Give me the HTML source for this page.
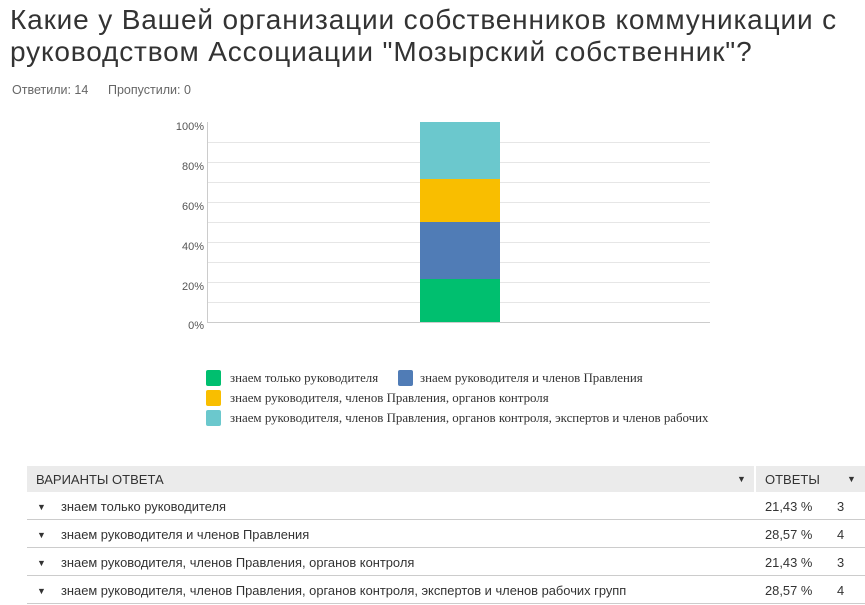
<!DOCTYPE html>
<html><head><meta charset="utf-8"><style>
body{margin:0;width:865px;height:605px;background:#fff;font-family:"Liberation Sans",sans-serif;position:relative;overflow:hidden;color:#333}
.t{position:absolute;left:10px;top:4px;font-size:28px;line-height:32px;color:#333;white-space:nowrap;letter-spacing:0.85px}
.s{position:absolute;top:83px;font-size:12.5px;color:#666}
.yl{position:absolute;left:150px;width:54px;text-align:right;font-size:11px;color:#555}
.lg{position:absolute;font-family:"Liberation Serif",serif;font-size:12.9px;color:#333;white-space:nowrap}
.sq{position:absolute;width:15px;height:16px;border-radius:2px}
.row{position:absolute;left:27px;width:838px;height:27px;border-bottom:1px solid #ccc;font-size:12.9px}
.row span{position:absolute;top:7px;white-space:nowrap}
.tri{position:absolute;font-size:9px;color:#333}
</style></head><body>
<div class="t">Какие у Вашей организации собственников коммуникации с<br>руководством Ассоциации "Мозырский собственник"?</div>
<div class="s" style="left:12px">Ответили: 14</div>
<div class="s" style="left:108px">Пропустили: 0</div>
<svg style="position:absolute;left:0;top:0" width="865" height="460">
<g stroke="#e6e6e6" stroke-width="1">
<line x1="207" x2="710" y1="142.5" y2="142.5"/><line x1="207" x2="710" y1="162.5" y2="162.5"/>
<line x1="207" x2="710" y1="182.5" y2="182.5"/><line x1="207" x2="710" y1="202.5" y2="202.5"/>
<line x1="207" x2="710" y1="222.5" y2="222.5"/><line x1="207" x2="710" y1="242.5" y2="242.5"/>
<line x1="207" x2="710" y1="262.5" y2="262.5"/><line x1="207" x2="710" y1="282.5" y2="282.5"/>
<line x1="207" x2="710" y1="302.5" y2="302.5"/>
</g>
<line x1="207.5" x2="207.5" y1="122" y2="322" stroke="#ccc"/>
<line x1="207" x2="710" y1="322.5" y2="322.5" stroke="#ccc"/>
<rect x="420" y="279" width="80" height="43" fill="#00bf6f"/>
<rect x="420" y="222" width="80" height="57" fill="#507cb6"/>
<rect x="420" y="179" width="80" height="43" fill="#f9be00"/>
<rect x="420" y="122" width="80" height="57" fill="#6bc8cd"/>
</svg>
<div class="yl" style="top:121px">100%</div>
<div class="yl" style="top:161px">80%</div>
<div class="yl" style="top:201px">60%</div>
<div class="yl" style="top:241px">40%</div>
<div class="yl" style="top:281px">20%</div>
<div class="yl" style="top:320px">0%</div>
<div class="sq" style="left:206px;top:370px;background:#00bf6f"></div>
<div class="lg" style="left:230px;top:371px">знаем только руководителя</div>
<div class="sq" style="left:398px;top:370px;background:#507cb6"></div>
<div class="lg" style="left:420px;top:371px">знаем руководителя и членов Правления</div>
<div class="sq" style="left:206px;top:390px;background:#f9be00"></div>
<div class="lg" style="left:230px;top:391px">знаем руководителя, членов Правления, органов контроля</div>
<div class="sq" style="left:206px;top:410px;background:#6bc8cd"></div>
<div class="lg" style="left:230px;top:411px">знаем руководителя, членов Правления, органов контроля, экспертов и членов рабочих</div>
<div style="position:absolute;left:27px;top:466px;width:838px;height:26px;background:#ebebeb;font-size:13px;color:#333">
<span style="position:absolute;left:9px;top:6px">ВАРИАНТЫ ОТВЕТА</span>
<span class="tri" style="left:710px;top:8px">▼</span>
<div style="position:absolute;left:727px;top:0;width:2px;height:26px;background:#fff"></div>
<span style="position:absolute;left:738px;top:6px">ОТВЕТЫ</span>
<span class="tri" style="left:820px;top:8px">▼</span>
</div>
<div class="row" style="top:492px"><span class="tri" style="left:10px;top:10px">▼</span><span style="left:34px">знаем только руководителя</span><span style="left:738px">21,43 %</span><span style="left:810px">3</span></div>
<div class="row" style="top:520px"><span class="tri" style="left:10px;top:10px">▼</span><span style="left:34px">знаем руководителя и членов Правления</span><span style="left:738px">28,57 %</span><span style="left:810px">4</span></div>
<div class="row" style="top:548px"><span class="tri" style="left:10px;top:10px">▼</span><span style="left:34px">знаем руководителя, членов Правления, органов контроля</span><span style="left:738px">21,43 %</span><span style="left:810px">3</span></div>
<div class="row" style="top:576px"><span class="tri" style="left:10px;top:10px">▼</span><span style="left:34px">знаем руководителя, членов Правления, органов контроля, экспертов и членов рабочих групп</span><span style="left:738px">28,57 %</span><span style="left:810px">4</span></div>
</body></html>
